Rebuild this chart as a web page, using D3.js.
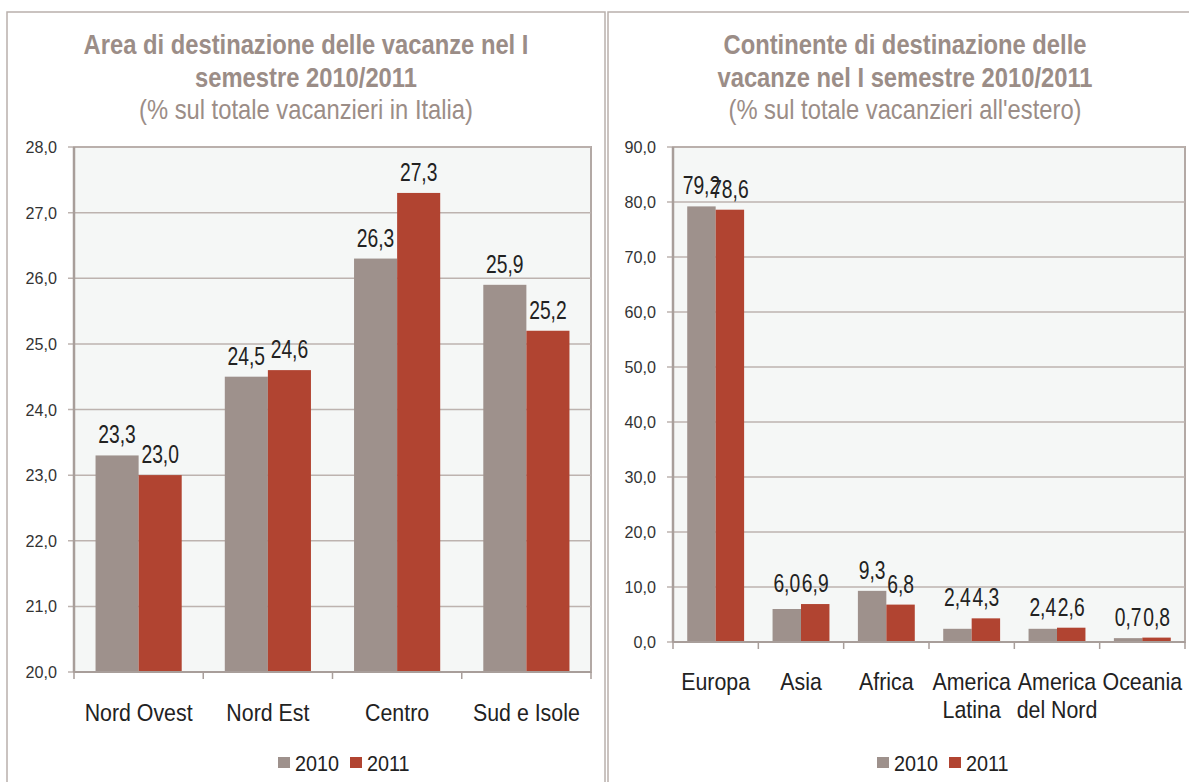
<!DOCTYPE html>
<html>
<head>
<meta charset="utf-8">
<script src="https://cdn.jsdelivr.net/npm/d3@7"></script>
<style>
  body { margin: 0; background: #fff; }
  text { font-family: "Liberation Sans", Arial, sans-serif; }
</style>
</head>
<body>
<script>
var width = 1189, height = 782;

var anni = ["2010", "2011"];
var coloriAnni = ["#9e918c", "#b14431"];

// pannello sinistro: Italia
var areeItalia = ["Nord Ovest", "Nord Est", "Centro", "Sud e Isole"];
var italia2010 = [23.3, 24.5, 26.3, 25.9];
var italia2011 = [23.0, 24.6, 27.3, 25.2];
var italiaTicks = [20, 21, 22, 23, 24, 25, 26, 27, 28];

// pannello destro: estero
var continenti = [["Europa"], ["Asia"], ["Africa"], ["America", "Latina"], ["America", "del Nord"], ["Oceania"]];
var estero2010 = [79.2, 6.0, 9.3, 2.4, 2.4, 0.7];
var estero2011 = [78.6, 6.9, 6.8, 4.3, 2.6, 0.8];
var esteroTicks = [0, 10, 20, 30, 40, 50, 60, 70, 80, 90];

var svg = d3.select("body").append("svg")
    .attr("width", width)
    .attr("height", height);

var fmt = function(v) { return d3.format(".1f")(v).replace(".", ","); };

// testo stretto (il font "narrow" non c'e', si comprime in orizzontale)
function stretto(x, y, sx) {
    return "translate(" + x + "," + y + ") scale(" + sx + ",1)";
}

function pannello(cfg) {
    var g = svg.append("g");

    // cornice del pannello
    g.append("rect")
        .attr("x", cfg.box[0]).attr("y", cfg.box[1])
        .attr("width", cfg.box[2]).attr("height", cfg.box[3])
        .attr("fill", "none").attr("stroke", "#b9b0ac").attr("stroke-width", 1.5);

    // titolo
    cfg.titolo.forEach(function(riga, i) {
        g.append("text").attr("text-anchor", "middle").attr("fill", "#9b8d87")
            .attr("transform", stretto(cfg.cx, 54 + i * 33, 0.88))
            .attr("font-size", 27).attr("font-weight", "bold").text(riga);
    });
    g.append("text").attr("text-anchor", "middle").attr("fill", "#9b8d87")
        .attr("transform", stretto(cfg.cx, 119, 0.88))
        .attr("font-size", 27).text(cfg.sottotitolo);

    var x = d3.scaleBand().domain(d3.range(cfg.categorie.length)).range([cfg.x0, cfg.x1]);
    var xs = d3.scaleBand().domain(anni).range([0, x.bandwidth()]).paddingOuter(0.5);
    var y = d3.scaleLinear().domain(cfg.dominio).range([cfg.y1, cfg.y0]);

    // area del grafico
    g.append("rect")
        .attr("x", cfg.x0).attr("y", cfg.y0)
        .attr("width", cfg.x1 - cfg.x0).attr("height", cfg.y1 - cfg.y0)
        .attr("fill", "#f5f7f6").attr("stroke", "#b3a9a5").attr("stroke-width", 2);

    g.selectAll(".grid").data(cfg.ticks).enter().append("line")
        .attr("x1", cfg.x0 - 6).attr("x2", cfg.x1)
        .attr("y1", function(d) { return y(d); }).attr("y2", function(d) { return y(d); })
        .attr("stroke", "#bdb3af").attr("stroke-width", 1.5);

    g.selectAll(".ylab").data(cfg.ticks).enter().append("text")
        .attr("transform", function(d) { return stretto(cfg.x0 - 17, y(d) + 6, 0.95); })
        .attr("text-anchor", "end").attr("font-size", 17).attr("fill", "#333")
        .text(fmt);

    var serie = [cfg.v2010, cfg.v2011];
    serie.forEach(function(valori, s) {
        g.selectAll(".bar" + s).data(valori).enter().append("rect")
            .attr("x", function(d, i) { return x(i) + xs(anni[s]); })
            .attr("width", xs.bandwidth())
            .attr("y", function(d) { return y(d); })
            .attr("height", function(d) { return cfg.y1 - y(d); })
            .attr("fill", coloriAnni[s]);
    });

    serie.forEach(function(valori, s) {
        g.selectAll(".lab" + s).data(valori).enter().append("text")
            .attr("transform", function(d, i) {
                var v = d;
                if (cfg.allinea && s == 0) v = Math.max(d, cfg.v2011[i]);
                return stretto(x(i) + xs(anni[s]) + xs.bandwidth() / 2, y(v) - 12, 0.77);
            })
            .attr("text-anchor", "middle").attr("font-size", 25).attr("fill", "#222")
            .text(fmt);
    });

    // assi
    g.append("line").attr("x1", cfg.x0).attr("x2", cfg.x0).attr("y1", cfg.y0).attr("y2", cfg.y1)
        .attr("stroke", "#a89e9a").attr("stroke-width", 2.5);
    g.append("line").attr("x1", cfg.x0).attr("x2", cfg.x1).attr("y1", cfg.y1).attr("y2", cfg.y1)
        .attr("stroke", "#a89e9a").attr("stroke-width", 2);
    g.selectAll(".xtick").data(d3.range(cfg.categorie.length + 1)).enter().append("line")
        .attr("x1", function(i) { return cfg.x0 + i * x.step(); })
        .attr("x2", function(i) { return cfg.x0 + i * x.step(); })
        .attr("y1", cfg.y1).attr("y2", cfg.y1 + 7)
        .attr("stroke", "#a89e9a").attr("stroke-width", 1.5);

    cfg.categorie.forEach(function(d, i) {
        var righe = Array.isArray(d) ? d : [d];
        righe.forEach(function(r, k) {
            g.append("text")
                .attr("transform", stretto(x(i) + x.bandwidth() / 2, cfg.yCat + k * 28, 0.89))
                .attr("text-anchor", "middle").attr("font-size", 24).attr("fill", "#222")
                .text(r);
        });
    });

    // legenda
    var leg = g.append("g");
    anni.forEach(function(a, s) {
        leg.append("rect").attr("x", cfg.legX + s * 72).attr("y", 757)
            .attr("width", 12).attr("height", 11).attr("fill", coloriAnni[s]);
        leg.append("text").attr("transform", stretto(cfg.legX + 17 + s * 72, 771, 0.9))
            .attr("font-size", 22).attr("fill", "#222").text(a);
    });
}

pannello({
    box: [7, 12, 598, 790], cx: 306,
    titolo: ["Area di destinazione delle vacanze nel I", "semestre 2010/2011"],
    sottotitolo: "(% sul totale vacanzieri in Italia)",
    categorie: areeItalia, v2010: italia2010, v2011: italia2011,
    ticks: italiaTicks, dominio: [20, 28],
    x0: 74, x1: 591, y0: 147, y1: 672, yCat: 721, legX: 278, allinea: false
});

pannello({
    box: [608, 12, 600, 790], cx: 905,
    titolo: ["Continente di destinazione delle", "vacanze nel I semestre 2010/2011"],
    sottotitolo: "(% sul totale vacanzieri all'estero)",
    categorie: continenti, v2010: estero2010, v2011: estero2011,
    ticks: esteroTicks, dominio: [0, 90],
    x0: 673, x1: 1185, y0: 147, y1: 642, yCat: 690, legX: 877, allinea: true
});
</script>
</body>
</html>
